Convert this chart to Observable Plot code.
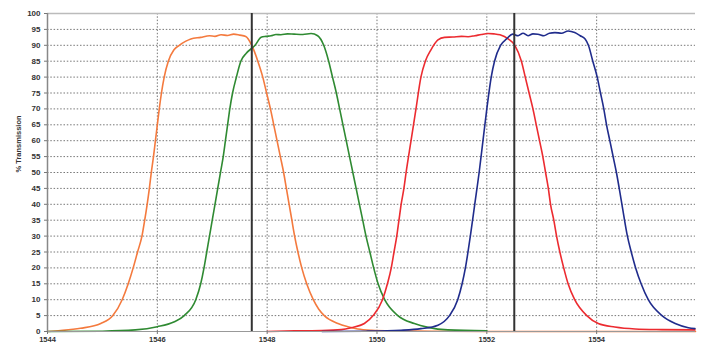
<!DOCTYPE html>
<html>
<head>
<meta charset="utf-8">
<script src="https://cdn.jsdelivr.net/npm/d3@7"></script>
<script src="https://cdn.jsdelivr.net/npm/@observablehq/plot@0.6"></script>
<style>
  html, body { margin: 0; padding: 0; background: #fff; }
  #chart svg { display: block; }
</style>
</head>
<body>
<div id="chart"></div>
<script>
// Tick labels / grid positions
const xTicks = [1544, 1546, 1548, 1550, 1552, 1554];
const xTickLabels = ["1544", "1546", "1548", "1550", "1552", "1554"];
const yTicks = [0, 5, 10, 15, 20, 25, 30, 35, 40, 45, 50, 55, 60, 65, 70, 75, 80, 85, 90, 95, 100];
const markerLines = [1547.72, 1552.5];

// Orange channel
const orangeX = [1544, 1544.24, 1544.6, 1544.97, 1545.19, 1545.36, 1545.47, 1545.56, 1545.64, 1545.72, 1545.77, 1545.815, 1545.855, 1545.89, 1545.93, 1545.965, 1546.0, 1546.035, 1546.075, 1546.125, 1546.2, 1546.3, 1546.4, 1546.52, 1546.61, 1546.79, 1546.95, 1547.05, 1547.16, 1547.28, 1547.39, 1547.5, 1547.61, 1547.72, 1547.83, 1547.92, 1547.99, 1548.06, 1548.12, 1548.18, 1548.24, 1548.3, 1548.35, 1548.4, 1548.45, 1548.5, 1548.56, 1548.63, 1548.72, 1548.84, 1548.94, 1549.04, 1549.29, 1549.47, 1549.65, 1549.9, 1550.3, 1551, 1552, 1555.8];
const orangeY = [0, 0.3, 1, 2.5, 5, 10, 15, 20, 25, 30, 35, 40, 45, 50, 55, 60, 65, 70, 75, 80, 85, 88.5, 90, 91.3, 92, 92.5, 93, 92.8, 93.3, 93.1, 93.5, 93.2, 92.8, 90, 85, 80, 75, 70, 65, 60, 55, 50, 45, 40, 35, 30, 25, 20, 15, 10, 7, 5, 2.5, 1.5, 0.8, 0.4, 0.2, 0.1, 0, 0];

// Green channel
const greenX = [1544, 1545, 1545.6, 1546, 1546.3, 1546.49, 1546.7, 1546.79, 1546.85, 1546.9, 1546.95, 1547.0, 1547.05, 1547.1, 1547.15, 1547.2, 1547.24, 1547.28, 1547.32, 1547.37, 1547.44, 1547.52, 1547.62, 1547.78, 1547.89, 1547.98, 1548.07, 1548.16, 1548.25, 1548.37, 1548.49, 1548.65, 1548.8, 1548.92, 1549.03, 1549.12, 1549.19, 1549.26, 1549.32, 1549.38, 1549.44, 1549.5, 1549.56, 1549.62, 1549.68, 1549.74, 1549.8, 1549.87, 1549.94, 1550.02, 1550.14, 1550.38, 1550.68, 1550.93, 1551.29, 1552];
const greenY = [0, 0.1, 0.5, 1.5, 3, 5, 10, 15, 20, 25, 30, 35, 40, 45, 50, 55, 60, 65, 70, 75, 80, 85, 87.5, 90, 92.5, 92.8, 93, 93.4, 93.3, 93.6, 93.5, 93.4, 93.7, 93, 90, 85, 80, 75, 70, 65, 60, 55, 50, 45, 40, 35, 30, 25, 20, 15, 10, 5, 2.5, 1.3, 0.5, 0.2];

// Red channel
const redX = [1548, 1548.5, 1549, 1549.35, 1549.53, 1549.77, 1549.93, 1550.1, 1550.19, 1550.26, 1550.31, 1550.36, 1550.4, 1550.44, 1550.49, 1550.53, 1550.62, 1550.71, 1550.8, 1550.88, 1550.98, 1551.11, 1551.23, 1551.38, 1551.54, 1551.66, 1551.78, 1551.9, 1552.02, 1552.13, 1552.24, 1552.39, 1552.51, 1552.63, 1552.7, 1552.77, 1552.84, 1552.9, 1552.96, 1553.02, 1553.07, 1553.12, 1553.16, 1553.22, 1553.27, 1553.33, 1553.4, 1553.48, 1553.6, 1553.82, 1554.03, 1554.33, 1554.7, 1555.19, 1555.79];
const redY = [0, 0.2, 0.3, 0.6, 1.2, 2.5, 5, 10, 15, 20, 25, 30, 35, 40, 45, 50, 60, 70, 80, 85, 88.5, 91.7, 92.5, 92.6, 92.8, 92.7, 93, 93.4, 93.7, 93.6, 93.3, 92, 90, 85, 80, 75, 70, 65, 60, 55, 50, 45, 40, 35, 30, 25, 20, 15, 10, 5, 2.5, 1.4, 0.8, 0.6, 0.5];

// Blue channel
const blueX = [1549, 1549.8, 1550.44, 1550.8, 1551.11, 1551.32, 1551.47, 1551.55, 1551.61, 1551.7, 1551.78, 1551.86, 1551.93, 1552.0, 1552.08, 1552.14, 1552.25, 1552.36, 1552.47, 1552.57, 1552.66, 1552.75, 1552.84, 1552.93, 1553.04, 1553.14, 1553.24, 1553.36, 1553.48, 1553.6, 1553.7, 1553.79, 1553.85, 1553.93, 1554.01, 1554.07, 1554.13, 1554.18, 1554.24, 1554.3, 1554.36, 1554.46, 1554.56, 1554.63, 1554.71, 1554.81, 1554.94, 1555.19, 1555.43, 1555.67, 1555.79];
const blueY = [0, 0.1, 0.4, 0.9, 2, 5, 10, 15, 20, 30, 40, 50, 60, 70, 80, 85, 90, 92, 93.5, 93, 93.8, 93, 93.6, 93.5, 93, 93.8, 94, 93.8, 94.5, 94, 93, 92, 90, 85, 80, 75, 70, 65, 60, 55, 50, 40, 30, 25, 20, 15, 10, 5, 2.5, 1.2, 0.9];

const toRows = (xs, ys) => xs.map((x, i) => ({x, y: ys[i]}));
const series = [
  {rows: toRows(orangeX, orangeY), color: "#f47a3e"},
  {rows: toRows(greenX, greenY), color: "#2f8a32"},
  {rows: toRows(redX, redY), color: "#ec2b30"},
  {rows: toRows(blueX, blueY), color: "#202c8c"}
];

const gridY = yTicks.filter(v => v > 0 && v < 100);
const gridX = xTicks.filter(v => v > 1544);

const chart = Plot.plot({
  width: 703,
  height: 347,
  marginLeft: 47,
  marginRight: 8,
  marginTop: 13,
  marginBottom: 16,
  style: {fontFamily: "'Liberation Sans', Arial, sans-serif", background: "#fff", color: "#333"},
  x: {domain: [1544, 1555.8]},
  y: {domain: [0, 100]},
  marks: [
    Plot.ruleY(gridY, {stroke: "#777", strokeWidth: 1, strokeDasharray: "1.5,1.8"}),
    Plot.ruleX(gridX, {stroke: "#777", strokeWidth: 1, strokeDasharray: "1.5,1.8"}),
    Plot.ruleY([100], {stroke: "#bbb", strokeWidth: 1.5}),
    ...series.map(s => Plot.line(s.rows, {x: "x", y: "y", stroke: s.color, strokeWidth: 1.6, curve: "monotone-x"})),
    Plot.ruleX(markerLines, {y1: 0, y2: 100, stroke: "#333", strokeWidth: 2}),
    Plot.ruleX([1544], {stroke: "#888", strokeWidth: 1.5}),
    Plot.ruleY([0], {stroke: "#999", strokeWidth: 1.2}),
    Plot.axisY({ticks: yTicks, tickSize: 3, tickPadding: 4, fontSize: 8, fontWeight: "bold", label: null, stroke: "#777"}),
    Plot.axisX({ticks: xTicks, tickFormat: d => xTickLabels[xTicks.indexOf(d)], tickSize: 3, tickPadding: 2, fontSize: 7.5, fontWeight: "bold", label: null, stroke: "#777"}),
    Plot.text(["% Transmission"], {frameAnchor: "left", rotate: -90, dx: -29, fontSize: 7.5, fontWeight: "bold", fill: "#333"})
  ]
});
document.getElementById("chart").appendChild(chart);
</script>
</body>
</html>
